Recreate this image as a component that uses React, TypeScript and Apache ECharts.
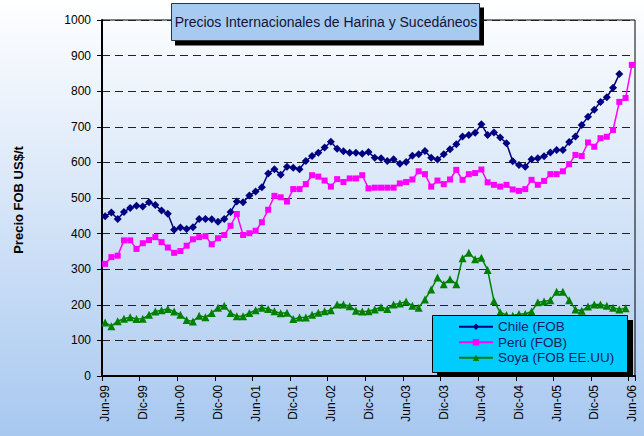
import React, { useEffect, useRef } from "react";
import * as echarts from "echarts";

const MONTH_NAMES = ["Ene", "Feb", "Mar", "Abr", "May", "Jun", "Jul", "Ago", "Sep", "Oct", "Nov", "Dic"];
// Monthly categories Jun-99 .. Jun-06
const categories: string[] = [];
for (let k = 0; k < 85; k++) {
  const m = (5 + k) % 12;
  const y = 1999 + Math.floor((5 + k) / 12);
  categories.push(MONTH_NAMES[m] + "-" + String(y).slice(2));
}

const chile: (number | null)[] = [
  449, 459, 441, 461, 472, 478, 476, 488, 480, 465, 456, 411, 417, 413, 418, 441, 441, 440, 433, 441,
  461, 490, 488, 507, 518, 530, 569, 581, 565, 588, 585, 581, 604, 618, 627, 642, 658, 638, 631, 627,
  627, 624, 629, 613, 612, 604, 609, 596, 601, 619, 623, 632, 613, 608, 623, 637, 651, 673, 677, 683,
  707, 677, 684, 670, 654, 603, 593, 588, 609, 612, 617, 628, 635, 635, 657, 673, 705, 728, 748, 770,
  783, 810, 848, null, null,
];

const peru: (number | null)[] = [
  315, 334, 338, 381, 381, 357, 373, 382, 390, 376, 361, 346, 351, 366, 384, 390, 393, 370, 387, 396,
  422, 455, 396, 401, 408, 432, 467, 506, 502, 490, 525, 525, 539, 564, 560, 549, 532, 553, 545, 555,
  555, 564, 527, 529, 529, 529, 529, 541, 545, 552, 575, 567, 532, 549, 539, 552, 579, 551, 567, 570,
  580, 544, 537, 532, 537, 524, 520, 525, 551, 537, 548, 567, 567, 575, 595, 621, 618, 656, 644, 668,
  672, 691, 770, 781, 874,
];

const soya: (number | null)[] = [
  150, 140, 154, 161, 165, 160, 161, 172, 181, 185, 188, 181, 172, 157, 153, 169, 165, 177, 192, 197,
  177, 168, 168, 177, 185, 192, 188, 182, 176, 178, 160, 164, 164, 172, 178, 182, 185, 201, 201, 196,
  183, 181, 182, 187, 193, 188, 201, 204, 209, 197, 192, 215, 243, 277, 258, 272, 258, 331, 346, 328,
  332, 298, 211, 179, 171, 169, 174, 174, 181, 207, 209, 213, 237, 237, 213, 187, 183, 195, 201, 201,
  197, 192, 187, 190, null,
];

const SERIES_NAMES = ["Chile (FOB", "Perú (FOB)", "Soya (FOB EE.UU)"];
const TITLE = "Precios Internacionales de Harina y Sucedáneos";
const Y_NAME = "Precio FOB US$/t";

const SANS = "'Liberation Sans', Arial, sans-serif";

export default function App() {
  const ref = useRef<HTMLDivElement>(null);

  useEffect(() => {
    if (!ref.current) return;
    const chart = echarts.init(ref.current, undefined, { renderer: "svg" });
    chart.setOption({
      animation: false,
      backgroundColor: "transparent",
      grid: {
        left: 102,
        right: 9,
        top: 20,
        bottom: 60,
        show: true,
        borderColor: "#000",
        borderWidth: 1,
        backgroundColor: "transparent",
      },
      xAxis: {
        type: "category",
        data: categories,
        boundaryGap: true,
        axisLine: { show: true, lineStyle: { color: "#000", width: 2 } },
        axisTick: { show: true, interval: 5, length: 5, lineStyle: { color: "#000", width: 1 } },
        axisLabel: {
          interval: 5,
          rotate: 90,
          margin: 9,
          fontSize: 12,
          fontFamily: SANS,
          color: "#000",
        },
        splitLine: { show: false },
      },
      yAxis: {
        type: "value",
        min: 0,
        max: 1000,
        interval: 100,
        axisLine: { show: true, lineStyle: { color: "#000", width: 2 } },
        axisTick: { show: true, length: 5, lineStyle: { color: "#000", width: 1 } },
        axisLabel: {
          margin: 11,
          fontSize: 12,
          fontFamily: SANS,
          color: "#000",
          formatter: (v: number) => String(v),
        },
        splitLine: { show: true, lineStyle: { color: "#222", width: 1, type: [8, 5] } },
      },
      legend: {
        orient: "vertical",
        left: 458,
        top: 319,
        z: 200,
        padding: 0,
        itemGap: 0,
        itemWidth: 34,
        itemHeight: 8,
        textStyle: { fontSize: 13.5, fontFamily: SANS, color: "#1a1a5e", lineHeight: 15.5 },
        data: SERIES_NAMES,
      },
      graphic: [
        { type: "rect", z: 100, shape: { x: 175, y: 7.5, width: 309, height: 38 }, style: { fill: "#000" } },
        {
          type: "rect",
          z: 101,
          shape: { x: 171.5, y: 3.5, width: 308, height: 37 },
          style: { fill: "#a6caf0", stroke: "#333", lineWidth: 1 },
        },
        {
          type: "text",
          z: 102,
          x: 326,
          y: 22,
          style: {
            text: TITLE,
            fontSize: 14,
            fontWeight: "normal",
            fontFamily: SANS,
            fill: "#14143a",
            align: "center",
            verticalAlign: "middle",
          },
        },
        { type: "rect", z: 100, shape: { x: 437, y: 320, width: 196, height: 57 }, style: { fill: "#000" } },
        {
          type: "rect",
          z: 101,
          shape: { x: 432.5, y: 315.5, width: 195, height: 57 },
          style: { fill: "#00ccff", stroke: "#000", lineWidth: 1 },
        },
        {
          type: "text",
          z: 102,
          x: 18,
          y: 200,
          rotation: Math.PI / 2,
          style: {
            text: Y_NAME,
            fontSize: 13,
            fontWeight: "bold",
            fontFamily: SANS,
            fill: "#000",
            align: "center",
            verticalAlign: "middle",
          },
        },
      ],
      series: [
        {
          name: SERIES_NAMES[0],
          type: "line",
          data: chile,
          symbol: "diamond",
          symbolSize: 8,
          showAllSymbol: true,
          itemStyle: { color: "#000080" },
          lineStyle: { color: "#000080", width: 1.5 },
        },
        {
          name: SERIES_NAMES[1],
          type: "line",
          data: peru,
          symbol: "rect",
          symbolSize: 6,
          showAllSymbol: true,
          itemStyle: { color: "#ff00ff" },
          lineStyle: { color: "#ff00ff", width: 1.5 },
        },
        {
          name: SERIES_NAMES[2],
          type: "line",
          data: soya,
          symbol: "triangle",
          symbolSize: 8,
          showAllSymbol: true,
          itemStyle: { color: "#008000" },
          lineStyle: { color: "#008000", width: 1.5 },
        },
      ],
    });
    return () => chart.dispose();
  }, []);

  return (
    <div
      style={{
        position: "fixed",
        left: 0,
        top: 0,
        width: 644,
        height: 436,
        background: "linear-gradient(to bottom, #ffffff 0%, #a8c8f0 100%)",
      }}
    >
      <div ref={ref} style={{ width: 644, height: 436 }} />
    </div>
  );
}
